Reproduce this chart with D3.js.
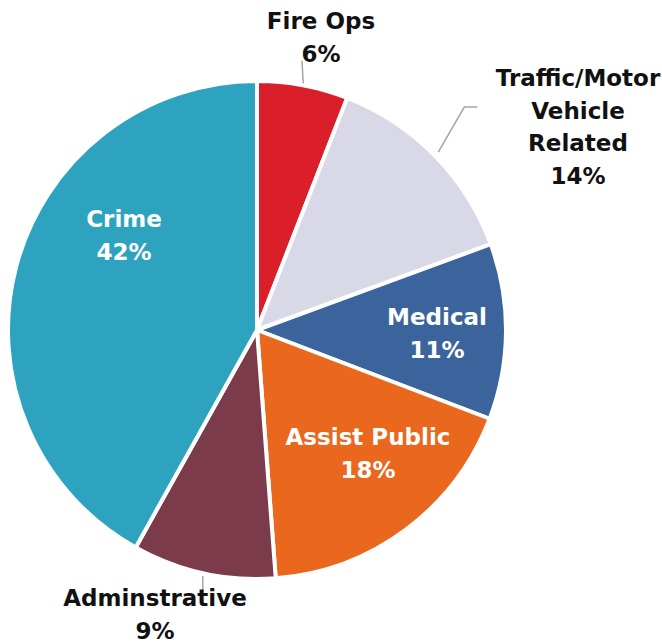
<!DOCTYPE html>
<html><head><meta charset="utf-8">
<script src="https://cdn.jsdelivr.net/npm/d3@7"></script>
<style>html,body{margin:0;padding:0;background:#fff;}</style>
</head><body>
<svg id="chart" width="662" height="643"></svg>
<script>
const categories = ["Fire Ops", "Traffic/Motor Vehicle Related", "Medical", "Assist Public", "Adminstrative", "Crime"];
const values = [5.9, 13.5, 11.4, 18.0, 9.3, 41.9];
const percentLabels = ["6%", "14%", "11%", "18%", "9%", "42%"];
const labelLines = [["Fire Ops"], ["Traffic/Motor", "Vehicle", "Related"], ["Medical"], ["Assist Public"], ["Adminstrative"], ["Crime"]];
const colors = ["#DA1F2B", "#D8D8E7", "#3A649B", "#EA671E", "#7B3B4A", "#2DA3BF"];
const textColors = ["#111", "#111", "#fff", "#fff", "#111", "#fff"];

// layout (label anchors: center x, first baseline y)
const cx = 257, cy = 330, R = 249;
const labelPos = [[321, 29], [578, 86], [437, 325], [368, 445], [155, 606], [124, 227]];

const svg = d3.select("#chart");
const g = svg.append("g").attr("transform", `translate(${cx},${cy})`);
const pie = d3.pie().sort(null).value(d => d);
const arcs = pie(values);
const arc = d3.arc().innerRadius(0).outerRadius(R);

g.selectAll("path.slice").data(arcs).join("path")
  .attr("class", "slice")
  .attr("d", arc)
  .attr("fill", (d, i) => colors[i])
  .attr("stroke", "#fff")
  .attr("stroke-width", 4)
  .attr("stroke-linejoin", "round");

function polar(angle, r) { return [cx + r * Math.sin(angle), cy - r * Math.cos(angle)]; }

// leader lines
const lg = svg.append("g").attr("stroke", "#A6A6A6").attr("stroke-width", 1.5).attr("fill", "none");
arcs.forEach((d, i) => {
  const mid = (d.startAngle + d.endAngle) / 2;
  if (i === 0) {
    const p0 = polar(mid, R + 2), p1 = polar(mid - 0.02, R + 24);
    lg.append("path").attr("d", d3.line()([p0, p1]));
  } else if (i === 1) {
    const p0 = polar(mid, R + 5);
    const p1 = [p0[0] + 26, p0[1] - 45];
    const p2 = [p1[0] + 13, p1[1]];
    lg.append("path").attr("d", d3.line()([p0, p1, p2]));
  } else if (i === 4) {
    const p0 = polar(mid, R + 3);
    lg.append("path").attr("d", d3.line()([p0, [p0[0], p0[1] + 16]]));
  }
});

// labels
const tg = svg.append("g")
  .attr("font-family", "'DejaVu Sans', sans-serif")
  .attr("font-weight", "bold")
  .attr("font-size", 23)
  .attr("text-anchor", "middle");
arcs.forEach((d, i) => {
  const [x, y] = labelPos[i];
  const lines = labelLines[i].concat([percentLabels[i]]);
  const t = tg.append("text").attr("fill", textColors[i]).attr("x", x).attr("y", y);
  lines.forEach((s, k) => {
    t.append("tspan").attr("x", x).attr("y", y + k * 32.5).text(s);
  });
});
</script>
</body></html>
